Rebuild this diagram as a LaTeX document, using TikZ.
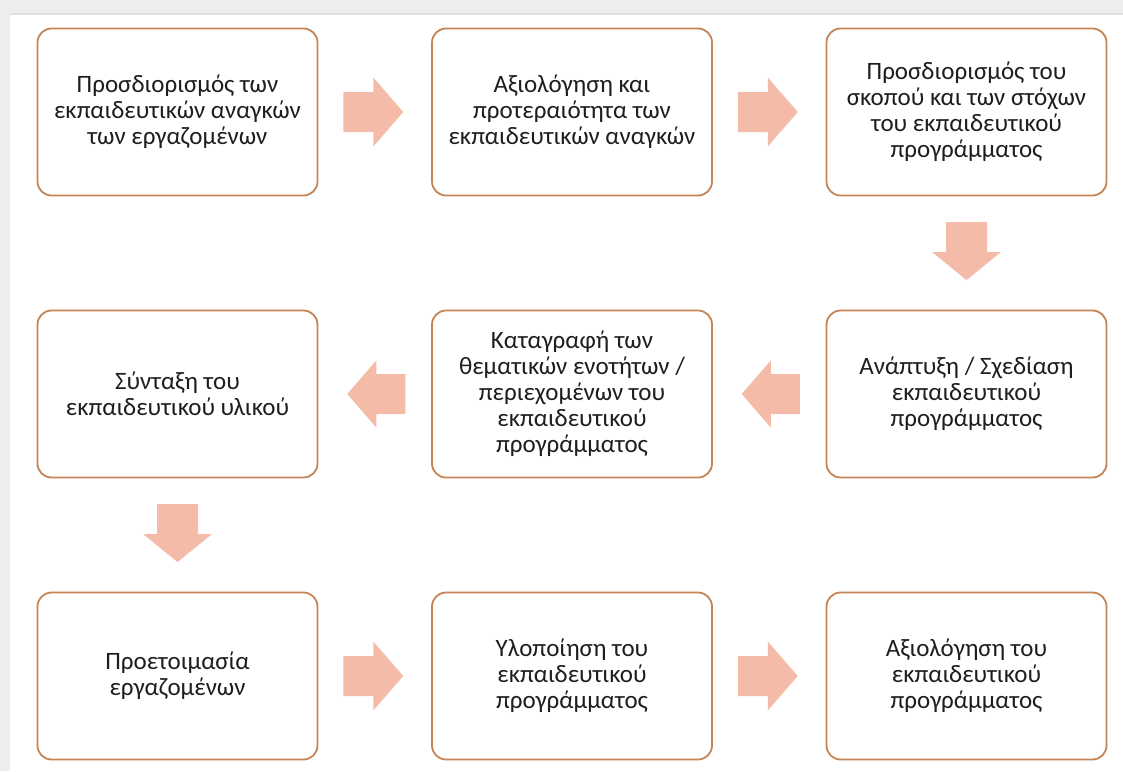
\documentclass[tikz,border=0pt]{standalone}
\usepackage{fontspec}
\setmainfont{Carlito}
\usetikzlibrary{calc}
\definecolor{boxline}{RGB}{196,132,84}
\definecolor{arrowfill}{RGB}{244,187,168}
\definecolor{framegray}{RGB}{238,238,238}
\definecolor{txt}{RGB}{30,30,30}
\tikzset{
  stepbox/.style={draw=boxline, line width=1.8pt, rounded corners=14pt, fill=white,
    minimum width=280pt, minimum height=167pt, align=center, text=txt,
    font=\fontsize{25pt}{26pt}\selectfont, inner sep=0pt},
  blockarrow/.style={fill=arrowfill, draw=none}
}
\begin{document}
\begin{tikzpicture}[x=1pt,y=-1pt]
\useasboundingbox (0,0) rectangle (1123,771);
\fill[framegray] (0,0) rectangle (1123,771);
\fill[white] (10,15) rectangle (1123,771);
\draw[black!12, line width=1.5pt] (10,14) -- (1123,14);
% row 1
\node[stepbox] (b1) at (177.5,112) {Προσδιορισμός των\\εκπαιδευτικών αναγκών\\των εργαζομένων};
\node[stepbox] (b2) at (572,112) {Αξιολόγηση και\\προτεραιότητα των\\εκπαιδευτικών αναγκών};
\node[stepbox] (b3) at (966.5,112) {Προσδιορισμός του\\σκοπού και των στόχων\\του εκπαιδευτικού\\προγράμματος};
% row 2
\node[stepbox] (b6) at (966.5,394) {Ανάπτυξη / Σχεδίαση\\εκπαιδευτικού\\προγράμματος};
\node[stepbox] (b5) at (572,394) {Καταγραφή των\\θεματικών ενοτήτων /\\περιεχομένων του\\εκπαιδευτικού\\προγράμματος};
\node[stepbox] (b4) at (177.5,394) {Σύνταξη του\\εκπαιδευτικού υλικού};
% row 3
\node[stepbox] (b7) at (177.5,676) {Προετοιμασία\\εργαζομένων};
\node[stepbox] (b8) at (572,676) {Υλοποίηση του\\εκπαιδευτικού\\προγράμματος};
\node[stepbox] (b9) at (966.5,676) {Αξιολόγηση του\\εκπαιδευτικού\\προγράμματος};
% coordinates for arrows
\coordinate (a12) at ($(b1.east)!0.5!(b2.west)+(-1.5,0)$);
\coordinate (a23) at ($(b2.east)!0.5!(b3.west)+(-1.5,0)$);
\coordinate (a36) at ($(b3.south)!0.5!(b6.north)+(0,-2)$);
\coordinate (a65) at ($(b6.west)!0.5!(b5.east)+(1.5,0)$);
\coordinate (a54) at ($(b5.west)!0.5!(b4.east)+(1.5,0)$);
\coordinate (a47) at ($(b4.south)!0.5!(b7.north)+(0,-2)$);
\coordinate (a78) at ($(b7.east)!0.5!(b8.west)+(-1.5,0)$);
\coordinate (a89) at ($(b8.east)!0.5!(b9.west)+(-1.5,0)$);
% right arrows
\foreach \c in {a12,a23,a78,a89}{
  \fill[blockarrow] ($(\c)+(-30,-20)$) -- ++(30,0) -- ++(0,-14.5) -- ($(\c)+(30,0)$)
    -- ($(\c)+(0,34.5)$) -- ++(0,-14.5) -- ++(-30,0) -- cycle;
}
% left arrows
\foreach \c in {a65,a54}{
  \fill[blockarrow] ($(\c)+(29,-20)$) -- ++(-29,0) -- ++(0,-13.5) -- ($(\c)+(-29,0)$)
    -- ($(\c)+(0,33.5)$) -- ++(0,-13.5) -- ++(29,0) -- cycle;
}
% down arrows
\foreach \c in {a36,a47}{
  \fill[blockarrow] ($(\c)+(-20.5,-29)$) -- ++(0,30) -- ++(-14,0) -- ($(\c)+(0,29)$)
    -- ($(\c)+(34.5,1)$) -- ++(-14,0) -- ++(0,-30) -- cycle;
}
\end{tikzpicture}
\end{document}
